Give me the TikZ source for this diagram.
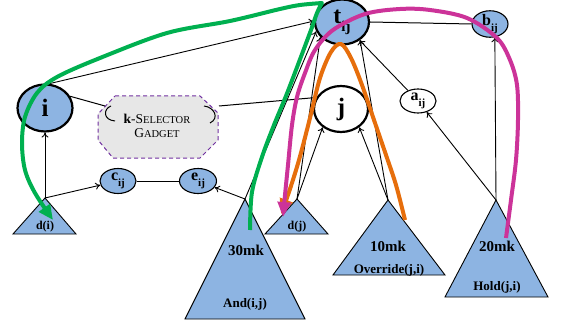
\documentclass[tikz,border=0pt]{standalone}
\usepackage{fontspec}
\setmainfont{Liberation Serif}
\usetikzlibrary{arrows.meta,shapes.geometric}
\definecolor{nodeblue}{RGB}{141,180,226}
\definecolor{pgreen}{RGB}{0,176,80}
\definecolor{pmag}{RGB}{204,51,153}
\definecolor{porange}{RGB}{230,110,12}
\definecolor{gpurple}{RGB}{112,48,160}
\definecolor{ggray}{RGB}{231,231,231}
\newcommand{\ijlab}[3]{{\fontsize{#1}{#1}\selectfont\bfseries #2\raisebox{-0.33em}{\fontsize{#3}{#3}\selectfont ij}}}
\begin{document}
\begin{tikzpicture}[x=1pt,y=-1pt,
  bignode/.style={ellipse, draw, line width=2.2pt, inner sep=0pt, minimum width=55pt, minimum height=46pt},
  smallnode/.style={ellipse, draw, line width=1.1pt, inner sep=0pt, minimum width=36pt, minimum height=25pt},
  tri/.style={draw, line width=0.9pt, fill=nodeblue, line join=miter},
  arr/.style={line width=0.9pt, -{To[length=5pt,width=7pt]}},
  plainline/.style={line width=1pt},
  labsmall/.style={inner sep=0pt, font=\fontsize{12}{12}\selectfont\bfseries},
  labmk/.style={inner sep=0pt, font=\fontsize{15}{15}\selectfont\bfseries},
  labname/.style={inner sep=0pt, font=\fontsize{13}{13}\selectfont\bfseries},
  hl/.style={line width=4pt, line join=round, line cap=butt},
  hltip/.style={-{Triangle[length=15pt,width=13pt]}}
]
\useasboundingbox (0,0) rectangle (563,329);

% triangles (apex coordinates)
\coordinate (dI) at (45,198);
\coordinate (and) at (245,199);
\coordinate (dJ) at (297,199);
\coordinate (ovr) at (388,200);
\coordinate (hold) at (496,200);
\draw[tri] (dI) -- ++(-32,36) -- ++(63,0) -- cycle;
\draw[tri] (and) -- ++(-60,120) -- ++(120,0) -- cycle;
\draw[tri] (dJ) -- ++(-32,35) -- ++(63,0) -- cycle;
\draw[tri] (ovr) -- ++(-55,75) -- ++(112,0) -- cycle;
\draw[tri] (hold) -- ++(-51,97) -- ++(103,0) -- cycle;

\node[labsmall] (dIl) at (45,227) {d(i)};
\node[labsmall] (dJl) at (297,227) {d(j)};
\node[labmk] (andmk) at (246,250) {30mk};
\node[labname] (andl) at (245,304) {And(i,j)};
\node[labmk] (ovrmk) at (388,246) {10mk};
\node[labname] (ovrl) at (389,270) {Override(j,i)};
\node[labmk] (holdmk) at (497,246) {20mk};
\node[labname] (holdl) at (497,287) {Hold(j,i)};

% gadget
\draw[gpurple, fill=ggray, line width=1pt, dash pattern=on 4pt off 3pt]
  (115,96) -- (200,96) -- (218,113) -- (218,140) -- (200,158) -- (113,158) -- (98,140) -- (98,114) -- cycle;
\draw[line width=1pt] (111,106) .. controls (103,109) and (103,120) .. (115,121);
\draw[line width=1pt] (204,106) .. controls (214,107) and (220,118) .. (210,123);
\coordinate (gl) at (105,106);
\coordinate (gr) at (219,106);
\node[align=center, inner sep=0pt, font=\fontsize{13.5}{14.5}\selectfont] (gadget) at (157,126)
  {\textbf{k}-S{\fontsize{10.5}{10.5}\selectfont ELECTOR}\\G{\fontsize{10.5}{10.5}\selectfont ADGET}};

% nodes
\node[bignode, fill=nodeblue, minimum width=55pt, minimum height=47pt] (i) at (45,108) {\fontsize{25}{25}\selectfont\bfseries i};
\node[bignode, fill=nodeblue, minimum width=54pt, minimum height=45pt] (tij) at (342,22) {\ijlab{24}{t}{15}};
\node[bignode, fill=white, minimum width=54pt, minimum height=46pt] (j) at (341,109) {\fontsize{25}{25}\selectfont\bfseries j};
\node[smallnode, fill=nodeblue, minimum width=36pt, minimum height=26pt] (bij) at (490,24) {\ijlab{16}{b}{11}};
\node[smallnode, fill=white, minimum width=36pt, minimum height=24pt] (aij) at (418,101) {\ijlab{16}{a}{11}};
\node[smallnode, fill=nodeblue, minimum width=36pt, minimum height=25pt] (cij) at (118,181) {\ijlab{16}{c}{11}};
\node[smallnode, fill=nodeblue, minimum width=37pt, minimum height=25pt] (eij) at (198,181) {\ijlab{16}{e}{11}};

% black connectors
\draw[arr] (dI) -- (i.south);
\draw[arr] (dI) -- (cij);
\draw[plainline] (cij) -- (eij);
\draw[arr] (and) -- (eij);
\draw[arr] (and) -- (tij.200);
\draw[arr] (dJ) -- (tij.215);
\draw[arr] (dJ) -- (j.225);
\draw[arr] (ovr) -- (j.315);
\draw[arr] (ovr) -- (tij.315);
\draw[arr] (aij) -- (tij);
\draw[arr] (hold) -- (aij);
\draw[arr] (hold) -- (bij.290);
\draw[plainline] (tij.east) -- (bij.west);
\draw[arr] (i.80) -- (tij.178);
\draw[plainline] (i.25) -- (gl);
\draw[plainline] (gr) -- (j.155);

% highlighted paths
\draw[hl, pgreen, hltip]
  plot[smooth, tension=0.55] coordinates {(250,230) (252,192) (262,157) (274,125) (286,96) (299,62) (311,30) (317,13) (322,3)}
  -- plot[smooth, tension=0.55] coordinates {(322,3) (300,5) (280,9) (230,21) (167,33) (100,58) (57,77) (37,93) (25,117) (22,143) (25,170) (35,193) (53,220)};
\draw[hl, porange, hltip]
  plot[smooth, tension=0.55] coordinates {(405,220) (396,185) (386,155) (374,120) (362,85) (351,58) (341,44) (331,52) (320,78) (310,118) (299,160) (289,192) (281,214)};
\draw[hl, pmag, hltip]
  plot[smooth, tension=0.55] coordinates {(506,238) (511,200) (516,160) (518,120) (517,85) (510,60) (497,38) (467,18) (430,10) (400,9) (365,14) (333,30) (315,50) (305,73) (297,97) (292,125) (288,165) (285,195) (283,217)};
\end{tikzpicture}
\end{document}
